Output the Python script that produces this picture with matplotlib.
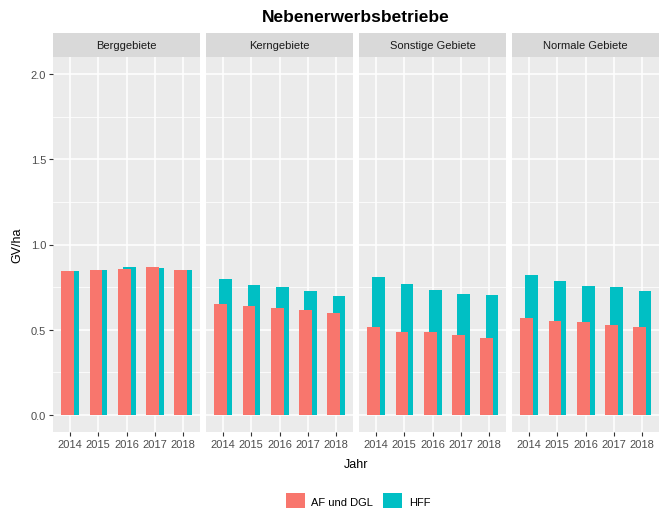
import matplotlib

matplotlib.use("Agg")

import matplotlib.pyplot as plt
import numpy as np
from matplotlib.patches import Patch

plt.rcParams["font.family"] = ["Liberation Sans", "DejaVu Sans"]

years = ["2014", "2015", "2016", "2017", "2018"]
regions = ["Berggebiete", "Kerngebiete", "Sonstige Gebiete", "Normale Gebiete"]
series = ["AF und DGL", "HFF"]

af_dgl = {
    "Berggebiete": [0.844, 0.850, 0.855, 0.867, 0.850],
    "Kerngebiete": [0.652, 0.640, 0.629, 0.613, 0.598],
    "Sonstige Gebiete": [0.514, 0.484, 0.484, 0.469, 0.451],
    "Normale Gebiete": [0.568, 0.553, 0.545, 0.529, 0.514],
}
hff = {
    "Berggebiete": [0.844, 0.850, 0.867, 0.863, 0.850],
    "Kerngebiete": [0.795, 0.760, 0.748, 0.730, 0.699],
    "Sonstige Gebiete": [0.810, 0.766, 0.732, 0.711, 0.703],
    "Normale Gebiete": [0.820, 0.783, 0.756, 0.750, 0.726],
}

colors = {"AF und DGL": "#F8766D", "HFF": "#00BFC4"}
bar_w = 0.45

fig = plt.figure(figsize=(6.65, 5.1), dpi=100)
W, H = 665, 510
panel_left = [53, 206, 359, 512]
panel_w = 147
ax_top, ax_bot = 58, 433
strip_top = 34

x = np.arange(1, len(years) + 1)
for i, reg in enumerate(regions):
    ax = fig.add_axes([panel_left[i] / W, 1 - ax_bot / H, panel_w / W, (ax_bot - ax_top) / H])
    ax.set_facecolor("#EBEBEB")
    for s in ax.spines.values():
        s.set_visible(False)
    ax.set_xlim(0.4, 5.6)
    ax.set_ylim(-0.1, 2.1)
    ax.set_yticks([0, 0.5, 1.0, 1.5, 2.0])
    ax.set_yticks([0.25, 0.75, 1.25, 1.75], minor=True)
    ax.set_xticks(x)
    ax.set_xticklabels(years)
    ax.grid(True, which="major", color="white", linewidth=1.1)
    ax.grid(True, which="minor", axis="y", color="white", linewidth=0.55)
    ax.set_axisbelow(True)
    ax.tick_params(axis="both", which="major", length=3, width=0.8, color="#333333",
                   labelsize=8, labelcolor="#4D4D4D", pad=2)
    ax.tick_params(axis="both", which="minor", length=0)
    if i == 0:
        ax.set_yticklabels(["0.0", "0.5", "1.0", "1.5", "2.0"])
    else:
        ax.tick_params(axis="y", which="major", length=0, labelleft=False)

    ax.bar(x + 0.10, hff[reg], width=bar_w, color=colors["HFF"], linewidth=0)
    ax.bar(x - 0.08, af_dgl[reg], width=bar_w, color=colors["AF und DGL"], linewidth=0)

    # facet strip
    sax = fig.add_axes([panel_left[i] / W, 1 - ax_top / H, panel_w / W, (ax_top - strip_top) / H])
    sax.set_facecolor("#D9D9D9")
    sax.set_xticks([])
    sax.set_yticks([])
    for s in sax.spines.values():
        s.set_visible(False)
    sax.text(0.5, 0.5, reg, ha="center", va="center", fontsize=8, color="#1A1A1A",
             transform=sax.transAxes)

fig.text(356 / W, 1 - 18 / H, "Nebenerwerbsbetriebe", ha="center", va="center",
         fontsize=12.5, fontweight="bold")
fig.text(17 / W, 1 - 245 / H, "GV/ha", ha="center", va="center", rotation=90,
         fontsize=9, color="black")
fig.text(356 / W, 1 - 465 / H, "Jahr", ha="center", va="center", fontsize=9)

handles = [Patch(facecolor=colors[s], edgecolor="none", label=s) for s in series]
fig.legend(handles=handles, loc="center", bbox_to_anchor=(358 / W, 1 - 502 / H), ncol=2,
           frameon=False, fontsize=8, handlelength=1.7, handleheight=1.7,
           handletextpad=0.6, columnspacing=0.9)

fig.savefig("out.png", dpi=100)
